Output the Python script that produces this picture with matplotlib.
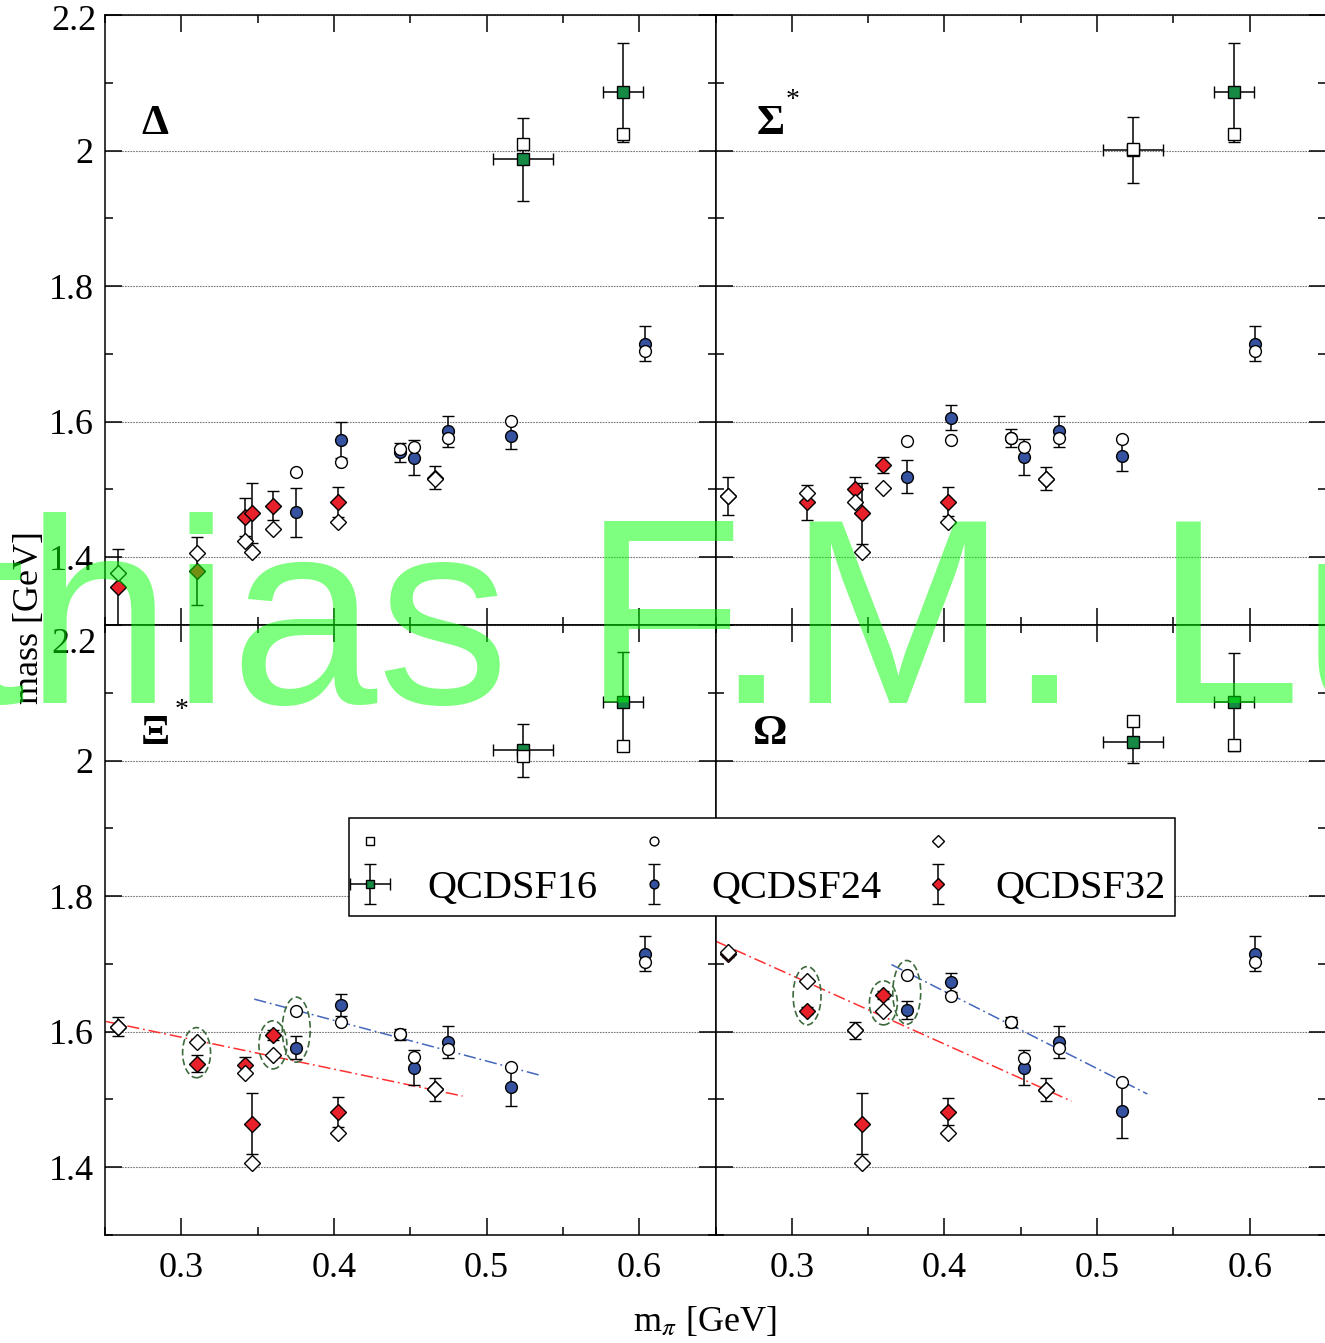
import numpy as np
import matplotlib.pyplot as plt
from matplotlib.patches import Ellipse
from matplotlib.ticker import MultipleLocator, FuncFormatter

plt.rcParams['font.family'] = ['Liberation Serif', 'DejaVu Serif']
plt.rcParams['mathtext.fontset'] = 'stix'

# pion masses [GeV] of the three lattice ensembles
mpi16 = [0.5238, 0.5896]
mpi16_err = [0.0197, 0.013]
mpi24 = [0.3753, 0.4043, 0.4435, 0.4523, 0.475, 0.5162, 0.6035]
mpi32 = [0.2585, 0.310, 0.3415, 0.3463, 0.360, 0.4026, 0.4665]

# Delta: lattice (filled) and fit (open)
delta16 = [1.987, 2.086]
delta16_err = [0.061, 0.073]
delta16_fit = [2.010, 2.024]
delta24 = [1.466, 1.573, 1.555, 1.547, 1.586, 1.579, 1.715]
delta24_err = [0.036, 0.027, 0.014, 0.026, 0.023, 0.020, 0.026]
delta24_fit = [1.526, 1.540, 1.559, 1.562, 1.576, 1.601, 1.704]
delta32 = [1.356, 1.380, 1.460, 1.465, 1.476, 1.481, 1.517]
delta32_err = [0.056, 0.050, 0.028, 0.044, 0.021, 0.022, 0.017]
delta32_fit = [1.376, 1.406, 1.424, 1.407, 1.441, 1.452, 1.516]

# Sigma*
sigma16 = [2.001, 2.086]
sigma16_err = [0.049, 0.073]
sigma16_fit = [2.003, 2.024]
sigma24 = [1.519, 1.606, 1.576, 1.548, 1.586, 1.550, 1.715]
sigma24_err = [0.024, 0.019, 0.013, 0.026, 0.023, 0.023, 0.026]
sigma24_fit = [1.571, 1.573, 1.576, 1.562, 1.576, 1.575, 1.704]
sigma32 = [1.491, 1.481, 1.500, 1.465, 1.536, 1.482, 1.516]
sigma32_err = [0.028, 0.026, 0.018, 0.045, 0.012, 0.021, 0.017]
sigma32_fit = [1.490, 1.495, 1.481, 1.407, 1.502, 1.452, 1.516]

# Xi*
xi16 = [2.015, 2.087]
xi16_err = [0.039, 0.073]
xi16_fit = [2.006, 2.022]
xi24 = [1.576, 1.639, 1.596, 1.547, 1.585, 1.519, 1.715]
xi24_err = [0.017, 0.016, 0.008, 0.026, 0.024, 0.029, 0.026]
xi24_fit = [1.630, 1.614, 1.596, 1.562, 1.575, 1.548, 1.703]
xi32 = [1.607, 1.553, 1.551, 1.464, 1.595, 1.481, 1.515]
xi32_err = [0.014, 0.013, 0.011, 0.045, 0.007, 0.022, 0.017]
xi32_fit = [1.607, 1.585, 1.539, 1.406, 1.566, 1.451, 1.515]

# Omega
omega16 = [2.027, 2.086]
omega16_err = [0.030, 0.072]
omega16_fit = [2.059, 2.023]
omega24 = [1.632, 1.673, 1.614, 1.547, 1.585, 1.483, 1.715]
omega24_err = [0.013, 0.014, 0.007, 0.026, 0.024, 0.040, 0.026]
omega24_fit = [1.684, 1.652, 1.614, 1.561, 1.576, 1.526, 1.703]
omega32 = [1.715, 1.631, 1.602, 1.464, 1.654, 1.482, 1.514]
omega32_err = [0.005, 0.005, 0.013, 0.045, 0.006, 0.020, 0.017]
omega32_fit = [1.718, 1.675, 1.602, 1.406, 1.631, 1.451, 1.514]

# dashed chiral trends (end points) in the lower panels
xi_red_x, xi_red_y = [0.2507, 0.4843], [1.615, 1.505]
xi_blue_x, xi_blue_y = [0.3478, 0.5362], [1.648, 1.535]
omega_red_x, omega_red_y = [0.2496, 0.4832], [1.734, 1.4975]
omega_blue_x, omega_blue_y = [0.3653, 0.533], [1.699, 1.508]

# encircled pairs: (ensemble, index)
circled = [(32, 1), (32, 4), (24, 0)]

green = '#168a45'
blue = '#3552a0'
red = '#e8202a'

W, H = 1325, 1343
fig = plt.figure(figsize=(W / 100, H / 100), dpi=100)

x0, x1 = 105 / W, 1326 / W
ytop, ymid, ybot = 1 - 15 / H, 1 - 625 / H, 1 - 1235 / H
pw = (x1 - x0) / 2
ph = ytop - ymid
axes = [fig.add_axes([x0, ymid, pw, ph]), fig.add_axes([x0 + pw, ymid, pw, ph]),
        fig.add_axes([x0, ybot, pw, ph]), fig.add_axes([x0 + pw, ybot, pw, ph])]

panels = [
    ('Δ', False, delta16, delta16_err, delta16_fit, delta24, delta24_err, delta24_fit,
     delta32, delta32_err, delta32_fit, None),
    ('Σ', True, sigma16, sigma16_err, sigma16_fit, sigma24, sigma24_err, sigma24_fit,
     sigma32, sigma32_err, sigma32_fit, None),
    ('Ξ', True, xi16, xi16_err, xi16_fit, xi24, xi24_err, xi24_fit,
     xi32, xi32_err, xi32_fit, (xi_red_x, xi_red_y, xi_blue_x, xi_blue_y)),
    ('Ω', False, omega16, omega16_err, omega16_fit, omega24, omega24_err, omega24_fit,
     omega32, omega32_err, omega32_fit, (omega_red_x, omega_red_y, omega_blue_x, omega_blue_y)),
]

ebkw = dict(ecolor='k', elinewidth=1.1, capsize=4.5, capthick=1.1, mec='k', mew=1.0,
            linestyle='none', zorder=3)
fmt = FuncFormatter(lambda v, pos: '%g' % round(v, 2))

handles = []
for i, (ax, p) in enumerate(zip(axes, panels)):
    name, star, y16, e16, f16, y24, e24, f24, y32, e32, f32, lines = p
    ax.set_xlim(0.25, 0.65)
    ax.set_ylim(1.3, 2.2)

    if lines is not None:
        rx, ry, bx, by = lines
        ax.plot(rx, ry, color='#ff3030', lw=1.1, dashes=(8, 2.5, 1.2, 2.5), zorder=2)
        ax.plot(bx, by, color='#4466bb', lw=1.1, dashes=(8, 2.5, 1.2, 2.5), zorder=2)
        sets = {24: (mpi24, y24, f24), 32: (mpi32, y32, f32)}
        for ens, k in circled:
            xs, ya, yb = sets[ens]
            ax.add_patch(Ellipse((xs[k], (ya[k] + yb[k]) / 2), 0.0183,
                                 abs(ya[k] - yb[k]) + 0.042, fill=False,
                                 ec='#3d6b3d', lw=1.2, ls=(0, (4, 2)), zorder=2))

    c16 = ax.errorbar(mpi16, y16, yerr=e16, xerr=mpi16_err, fmt='s', ms=8, mfc=green, **ebkw)
    c24 = ax.errorbar(mpi24, y24, yerr=e24, fmt='o', ms=8.5, mfc=blue, **ebkw)
    c32 = ax.errorbar(mpi32, y32, yerr=e32, fmt='D', ms=8, mfc=red, **ebkw)
    o16, = ax.plot(mpi16, f16, 's', ms=8, mfc='white', mec='k', mew=1.0, ls='none', zorder=4)
    o24, = ax.plot(mpi24, f24, 'o', ms=8.5, mfc='white', mec='k', mew=1.0, ls='none', zorder=4)
    o32, = ax.plot(mpi32, f32, 'D', ms=8, mfc='white', mec='k', mew=1.0, ls='none', zorder=4)
    if i == 0:
        handles = [o16, c16, o24, c24, o32, c32]

    ax.xaxis.set_major_locator(MultipleLocator(0.1))
    ax.xaxis.set_minor_locator(MultipleLocator(0.05))
    ax.yaxis.set_minor_locator(MultipleLocator(0.1))
    ax.tick_params(which='both', direction='in', top=True, right=True, width=1.1,
                   labelsize=26)
    ax.tick_params(which='major', length=12)
    ax.tick_params(which='minor', length=6)
    ax.tick_params(axis='y', pad=8)
    ax.tick_params(axis='x', pad=12)
    ax.xaxis.set_major_formatter(fmt)
    ax.yaxis.set_major_formatter(fmt)
    if i < 2:
        ax.tick_params(labelbottom=False)
    if i % 2 == 1:
        ax.tick_params(labelleft=False)
    for s in ax.spines.values():
        s.set_linewidth(1.1)
    ax.set_yticks([1.4, 1.6, 1.8, 2.0])
    ax.yaxis.grid(True, which='major', color='#777777', lw=0.8, dashes=(1.5, 1))
    ax.set_yticks([1.4, 1.6, 1.8, 2.0, 2.2])
    ax.set_axisbelow(True)
    if i % 2 == 0:
        # top label sits a little below its tick, as in the original
        ax.yaxis.get_major_ticks()[-1].label1.set_visible(False)
        ax.annotate('2.2', xy=(0, 2.2), xycoords=('axes fraction', 'data'),
                    xytext=(-6, -5 if i == 0 else -14), textcoords='offset points',
                    ha='right', va='center', fontsize=26)

    lx = 0.082 if i % 2 == 0 else 0.09
    ax.text(lx, 0.822, name, transform=ax.transAxes, ha='center', va='center',
            fontsize=31, fontweight='bold')
    if star:
        ax.text(0.126, 0.86, '*', transform=ax.transAxes, ha='center', va='center',
                fontsize=20)

leg = fig.legend(handles, ['', 'QCDSF16', '', 'QCDSF24', '', 'QCDSF32'], ncol=3,
                 loc='center', bbox_to_anchor=(762 / W, 1 - 867 / H), fontsize=29,
                 frameon=True, fancybox=False, edgecolor='k', framealpha=1,
                 handlelength=0.6, handletextpad=1.13, columnspacing=1.1, borderpad=0.22,
                 labelspacing=0.15, markerscale=0.75, borderaxespad=0)
leg.get_frame().set_linewidth(1.1)

fig.text(30 / W, 1 - 618 / H, 'mass [GeV]', rotation=90, ha='center', va='center',
         fontsize=26)
fig.text(705 / W, 1 - 1322 / H, r'm$_\pi$ [GeV]', ha='center', va='center', fontsize=26)

# watermark
fig.text(-488 / W, 1 - 703 / H, 'Matthias F.M. Lutz', family='Liberation Sans',
         fontsize=190, color=(0, 1, 0), alpha=0.5, ha='left', va='baseline', zorder=10)

fig.savefig('out.png', dpi=100)
